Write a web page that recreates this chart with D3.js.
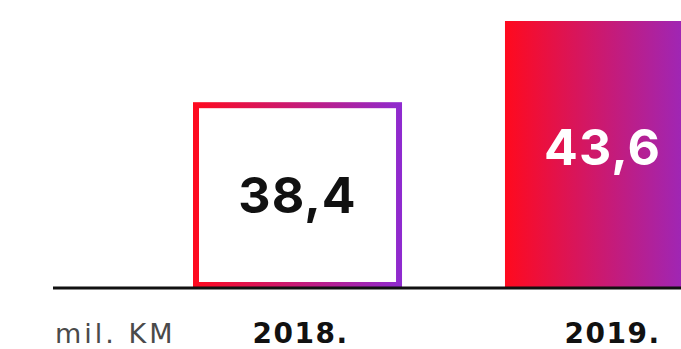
<!DOCTYPE html>
<html>
<head>
<meta charset="utf-8">
<script src="https://cdn.jsdelivr.net/npm/d3@7"></script>
<style>
  html, body { margin: 0; padding: 0; background: #ffffff; }
  svg { display: block; }
</style>
</head>
<body>
<svg id="chart" width="681" height="349"></svg>
<script>
// Kilometres travelled per year, in millions
const years = ["2018.", "2019."];
const values = [38.4, 43.6];
const valueLabels = ["38,4", "43,6"];
const unitLabel = "mil. KM";
const barStyles = ["outline", "filled"];

const W = 681, H = 349;
const baseY = 288;

const svg = d3.select("#chart");

const x = d3.scaleBand()
  .domain(years)
  .range([193, 714])
  .paddingInner(0.33)
  .paddingOuter(0);

const y = d3.scaleLinear()
  .domain([26.5, 43.6])
  .range([baseY, 21]);

// red → violet gradient shared by both bars
const defs = svg.append("defs");
const grad = defs.append("linearGradient")
  .attr("id", "redViolet")
  .attr("x1", "0%").attr("x2", "100%")
  .attr("y1", "0%").attr("y2", "0%");
grad.append("stop").attr("offset", "0%").attr("stop-color", "#ff0a1e");
grad.append("stop").attr("offset", "100%").attr("stop-color", "#8e2bd0");

const data = years.map((yr, i) => ({ yr, v: values[i], label: valueLabels[i], style: barStyles[i] }));

const bw = 6;
const bars = svg.append("g");

// outlined bar: gradient frame with white interior
data.filter(d => d.style === "outline").forEach(d => {
  const x0 = x(d.yr), w = x.bandwidth();
  const top = y(d.v);
  bars.append("rect")
    .attr("x", x0).attr("y", top)
    .attr("width", w).attr("height", baseY - top)
    .attr("fill", "url(#redViolet)");
  bars.append("rect")
    .attr("x", x0 + bw).attr("y", top + bw)
    .attr("width", w - 2 * bw).attr("height", baseY - top - 2 * bw)
    .attr("fill", "#ffffff");
  bars.append("text")
    .attr("x", x0 + w / 2)
    .attr("y", (top + baseY) / 2 + 18)
    .attr("text-anchor", "middle")
    .attr("font-family", "Inter, 'DejaVu Sans', sans-serif")
    .attr("font-weight", 700)
    .attr("font-size", 50)
    .attr("letter-spacing", 1)
    .attr("fill", "#111111")
    .text(d.label);
});

// filled bar
data.filter(d => d.style === "filled").forEach(d => {
  const x0 = x(d.yr), w = x.bandwidth();
  const top = y(d.v);
  bars.append("rect")
    .attr("x", x0).attr("y", top)
    .attr("width", w).attr("height", baseY - top)
    .attr("fill", "url(#redViolet)");
  bars.append("text")
    .attr("x", x0 + w / 2 - 7)
    .attr("y", top + 144)
    .attr("text-anchor", "middle")
    .attr("font-family", "Inter, 'DejaVu Sans', sans-serif")
    .attr("font-weight", 700)
    .attr("font-size", 50)
    .attr("letter-spacing", 1)
    .attr("fill", "#ffffff")
    .text(d.label);
});

// baseline axis with year labels
const axis = d3.axisBottom(x).tickSize(0).tickPadding(0);
const ax = svg.append("g").attr("transform", `translate(0,${baseY})`).call(axis);
ax.select(".domain").remove();
ax.selectAll("text")
  .attr("y", 55)
  .attr("dy", 0)
  .attr("dx", 3)
  .attr("font-family", "'DejaVu Sans', sans-serif")
  .attr("font-weight", 700)
  .attr("font-size", 28)
  .attr("letter-spacing", 1.5)
  .attr("fill", "#111111");

svg.append("line")
  .attr("x1", 53).attr("x2", W)
  .attr("y1", baseY).attr("y2", baseY)
  .attr("stroke", "#111111")
  .attr("stroke-width", 3);

svg.append("text")
  .attr("x", 55).attr("y", 343)
  .attr("font-family", "'DejaVu Sans', sans-serif")
  .attr("font-weight", 400)
  .attr("font-size", 27)
  .attr("letter-spacing", 3)
  .attr("fill", "#4a4a4a")
  .text(unitLabel);
</script>
</body>
</html>
